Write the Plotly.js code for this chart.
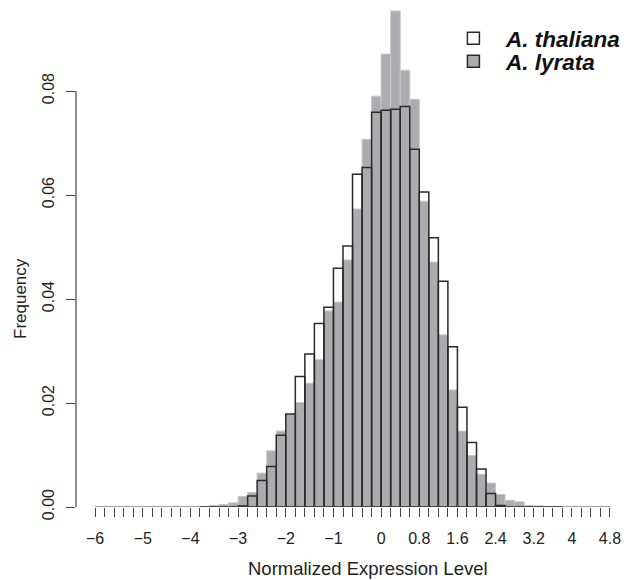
<!DOCTYPE html>
<html>
<head>
<meta charset="utf-8">
<script src="https://cdn.plot.ly/plotly-3.0.1.min.js"></script>
<style>html,body{margin:0;padding:0;background:#fff;}#chart{width:630px;height:580px;}</style>
</head>
<body>
<div id="chart"></div>
<script>
// Bin centres (bin width 0.2) of the non-empty bins
var binCenters = [-3.7,-3.5,-3.3,-3.1,-2.9,-2.7,-2.5,-2.3,-2.1,-1.9,-1.7,-1.5,-1.3,-1.1,-0.9,-0.7,-0.5,-0.3,-0.1,
                  0.1,0.3,0.5,0.7,0.9,1.1,1.3,1.5,1.7,1.9,2.1,2.3,2.5,2.7,2.9,3.1,3.3,3.5,3.7];
var binWidth = 0.2;
var lyrataFreq = [0.0001,0.0003,0.0005,0.0008,0.0020,0.0028,0.0065,0.0108,0.0146,0.0178,0.0201,0.0238,0.0283,0.0377,0.0394,0.0475,0.0573,0.0707,0.0790,
                  0.0871,0.0954,0.0840,0.0784,0.0588,0.0471,0.0331,0.0225,0.0146,0.0099,0.0063,0.0046,0.0024,0.0013,0.0010,0.0003,0.0002,0.0001,0.0001];
var thalianaFreq = [0,0,0,0,0.0002,0.0021,0.0051,0.0078,0.0138,0.0179,0.0251,0.0294,0.0353,0.0384,0.0459,0.0502,0.0640,0.0653,0.0759,
                    0.0763,0.0765,0.0770,0.0688,0.0606,0.0518,0.0434,0.0308,0.0192,0.0124,0.0073,0.0026,0.0003,0,0,0,0,0,0];
var seriesNames = ['<b><i>A. thaliana</i></b>', '<b><i>A. lyrata</i></b>'];
var xLabelValues = [-6,-5,-4,-3,-2,-1,0,0.8,1.6,2.4,3.2,4,4.8];
var xLabelTexts  = ['\u22126','\u22125','\u22124','\u22123','\u22122','\u22121','0','0.8','1.6','2.4','3.2','4','4.8'];
var yTickValues = [0,0.02,0.04,0.06,0.08];
var yTickTexts  = ['0.00','0.02','0.04','0.06','0.08'];
var xTitle = 'Normalized Expression Level';
var yTitle = 'Frequency';

var gray = '#acacb0';
var dark = '#2a2a2a';

// minor ticks every bin width across the labelled range
var xFirst = xLabelValues[0], xLast = xLabelValues[xLabelValues.length-1];
var tickvals = [], ticktext = [];
var nT = Math.round((xLast - xFirst)/binWidth);
for (var i = 0; i <= nT; i++) {
  var v = Math.round((xFirst + i*binWidth)*10)/10;
  tickvals.push(v);
  var k = xLabelValues.indexOf(v);
  ticktext.push(k >= 0 ? xLabelTexts[k] : '');
}

var traces = [
  {type:'bar', x:binCenters, y:lyrataFreq, width:binWidth, name:seriesNames[1], showlegend:false,
   marker:{color:gray, line:{color:'#c6c6ca', width:1}}, hoverinfo:'x+y'},
  {type:'bar', x:[null], y:[null], name:seriesNames[1], showlegend:true, legend:'legend2',
   marker:{color:gray, line:{color:dark, width:1.5}}},
  {type:'bar', x:binCenters, y:thalianaFreq, width:binWidth, name:seriesNames[0], showlegend:true, legend:'legend',
   marker:{color:'rgba(0,0,0,0)', line:{color:dark, width:1.5}}}
];

var legendCommon = {xanchor:'left', yanchor:'top', bgcolor:'rgba(0,0,0,0)', itemwidth:55,
                    font:{size:22.5, color:'#111'}, itemclick:false};

var layout = {
  width:630, height:580,
  margin:{l:76, r:15, t:0, b:73, pad:0},
  paper_bgcolor:'#fff', plot_bgcolor:'#fff',
  barmode:'overlay', bargap:0,
  font:{family:'Liberation Sans, Arial, sans-serif', color:'#222', size:16},
  xaxis:{range:[-6.4, 4.905], tickmode:'array', tickvals:tickvals, ticktext:ticktext,
         ticks:'outside', ticklen:9, tickwidth:1, tickcolor:'#444', showgrid:false, zeroline:false,
         showline:false, ticklabelstandoff:8, tickfont:{size:16}},
  yaxis:{range:[0, 0.0975], tickmode:'array', tickvals:yTickValues, ticktext:yTickTexts,
         ticks:'outside', ticklen:9, tickwidth:1, tickcolor:'#444', tickangle:-90,
         showgrid:false, zeroline:false, showline:false, ticklabelstandoff:6, tickfont:{size:16}},
  legend:Object.assign({x:0.677, y:0.966}, legendCommon),
  legend2:Object.assign({x:0.677, y:0.921}, legendCommon),
  annotations:[
    {text:xTitle, xref:'paper', yref:'paper', x:0.542, y:0, yshift:-61, xanchor:'center', yanchor:'middle',
     showarrow:false, font:{size:18.5, color:'#222'}},
    {text:yTitle, xref:'paper', yref:'y', x:0, xshift:-56, y:(yTickValues[0]+yTickValues[yTickValues.length-1])/2,
     textangle:-90, xanchor:'center', yanchor:'middle', showarrow:false, font:{size:17, color:'#222'}}
  ],
  shapes:[
    {type:'line', xref:'x', yref:'y', x0:xFirst, x1:xLast, y0:0, y1:0, line:{color:'#444', width:1.2}},
    {type:'line', xref:'paper', yref:'y', x0:0, x1:0, y0:yTickValues[0], y1:yTickValues[yTickValues.length-1], line:{color:'#444', width:1.2}}
  ]
};

Plotly.newPlot('chart', traces, layout, {displayModeBar:false, staticPlot:true});
</script>
</body>
</html>
